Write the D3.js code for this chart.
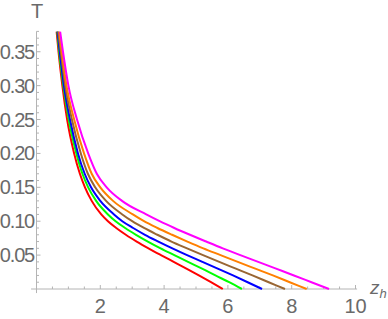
<!DOCTYPE html>
<html lang="en">
<head>
<meta charset="UTF-8">
<title>T vs z_h</title>
<script src="https://d3js.org/d3.v7.min.js"></script>
<style>
  body { margin: 0; background: #fff; }
  svg { display: block; }
  .tick-label { font-family: "Liberation Sans", Arial, sans-serif; font-size: 20px; fill: #6a6a6a; }
</style>
</head>
<body>
<div id="chart"></div>
<script>
// temperature levels at which each curve was read
const tLevels = [0.38, 0.35, 0.30, 0.25, 0.20, 0.17, 0.15, 0.13, 0.11, 0.10,
                 0.09, 0.08, 0.07, 0.06, 0.05, 0.04, 0.03, 0.02, 0.01, 0];

// z_h of each curve at those levels
const zRed     = [0.63, 0.69, 0.81, 0.96, 1.18, 1.36, 1.52, 1.73, 2.03, 2.24, 2.50, 2.80, 3.14, 3.51, 3.90, 4.30, 4.70, 5.09, 5.47, 5.84];
const zGreen   = [0.65, 0.71, 0.84, 1.01, 1.25, 1.44, 1.62, 1.87, 2.24, 2.48, 2.78, 3.12, 3.49, 3.89, 4.32, 4.75, 5.19, 5.61, 6.04, 6.44];
const zBlue    = [0.66, 0.73, 0.86, 1.05, 1.30, 1.51, 1.71, 2.00, 2.43, 2.69, 3.03, 3.40, 3.82, 4.26, 4.72, 5.20, 5.68, 6.16, 6.62, 7.07];
const zBrown   = [0.68, 0.76, 0.90, 1.11, 1.39, 1.61, 1.84, 2.18, 2.69, 3.00, 3.37, 3.79, 4.23, 4.72, 5.22, 5.73, 6.25, 6.77, 7.28, 7.79];
const zOrange  = [0.71, 0.79, 0.94, 1.18, 1.49, 1.73, 2.00, 2.40, 3.02, 3.37, 3.79, 4.25, 4.73, 5.23, 5.77, 6.31, 6.86, 7.41, 7.94, 8.47];
const zMagenta = [0.74, 0.83, 1.00, 1.27, 1.62, 1.89, 2.20, 2.68, 3.44, 3.86, 4.32, 4.81, 5.32, 5.84, 6.39, 6.95, 7.51, 8.07, 8.62, 9.17];

const seriesColors = ["#ff0000", "#00ff00", "#0000ff", "#996633", "#ff8000", "#ff00ff"];
const seriesZ = [zRed, zGreen, zBlue, zBrown, zOrange, zMagenta];

const xMajor = [2, 4, 6, 8, 10];
const yMajor = [0.05, 0.10, 0.15, 0.20, 0.25, 0.30, 0.35];

const W = 388, H = 319;
const svg = d3.select("#chart").append("svg")
    .attr("width", W).attr("height", H);

const x = d3.scaleLinear().domain([0, 10]).range([36.5, 355.5]);
const y = d3.scaleLinear().domain([0, 0.38]).range([289, 31.4]);

const axisColor = "#b4b4b4";

// axes lines
svg.append("line")
    .attr("x1", x(-0.17)).attr("x2", x(10.05))
    .attr("y1", y(0)).attr("y2", y(0))
    .attr("stroke", axisColor).attr("stroke-width", 1);
svg.append("line")
    .attr("x1", x(0)).attr("x2", x(0))
    .attr("y1", y(-0.006)).attr("y2", y(0.38))
    .attr("stroke", axisColor).attr("stroke-width", 1);

// x ticks (pointing up into plot)
const xTicks = d3.range(0.5, 10.01, 0.5);
svg.append("g").selectAll("line")
    .data(xTicks).enter().append("line")
    .attr("x1", d => x(d)).attr("x2", d => x(d))
    .attr("y1", y(0))
    .attr("y2", d => y(0) - (Math.abs(d % 2) < 1e-6 ? 4 : 2.5))
    .attr("stroke", axisColor);

svg.append("g").selectAll("text")
    .data(xMajor).enter().append("text")
    .attr("class", "tick-label")
    .attr("x", d => x(d))
    .attr("y", 313)
    .attr("text-anchor", "middle")
    .text(d => d);

// y ticks (pointing right into plot)
const yTicks = d3.range(1, 39).map(i => i / 100);
svg.append("g").selectAll("line")
    .data(yTicks).enter().append("line")
    .attr("x1", x(0))
    .attr("x2", (d, i) => x(0) + ((i + 1) % 5 === 0 ? 4 : 2.5))
    .attr("y1", d => y(d)).attr("y2", d => y(d))
    .attr("stroke", axisColor);

svg.append("g").selectAll("text")
    .data(yMajor).enter().append("text")
    .attr("class", "tick-label")
    .attr("x", 34)
    .attr("y", d => y(d) + 7)
    .attr("text-anchor", "end")
    .style("letter-spacing", "-1.2px")
    .text(d => d.toFixed(2));

// axis labels
svg.append("text")
    .attr("class", "tick-label")
    .attr("x", 37).attr("y", 18)
    .attr("text-anchor", "middle")
    .text("T");

const zl = svg.append("text")
    .attr("class", "tick-label")
    .attr("x", 370).attr("y", 294)
    .style("font-style", "italic")
    .style("font-size", "19px");
zl.append("tspan").text("z");
zl.append("tspan").attr("dy", 4).style("font-size", "13px").text("h");

// curves
svg.append("clipPath").attr("id", "plotclip")
    .append("rect")
    .attr("x", x(0)).attr("y", y(0.38))
    .attr("width", x(10) - x(0)).attr("height", y(0) - y(0.38) + 2);

const line = d3.line()
    .x(d => x(d[0]))
    .y(d => y(d[1]))
    .curve(d3.curveMonotoneX);

const curves = svg.append("g").attr("clip-path", "url(#plotclip)");
seriesZ.forEach((zs, i) => {
    const pts = zs.map((z, j) => [z, tLevels[j]]);
    curves.append("path")
        .datum(pts)
        .attr("d", line)
        .attr("fill", "none")
        .attr("stroke", seriesColors[i])
        .attr("stroke-width", 2);
});
</script>
</body>
</html>
